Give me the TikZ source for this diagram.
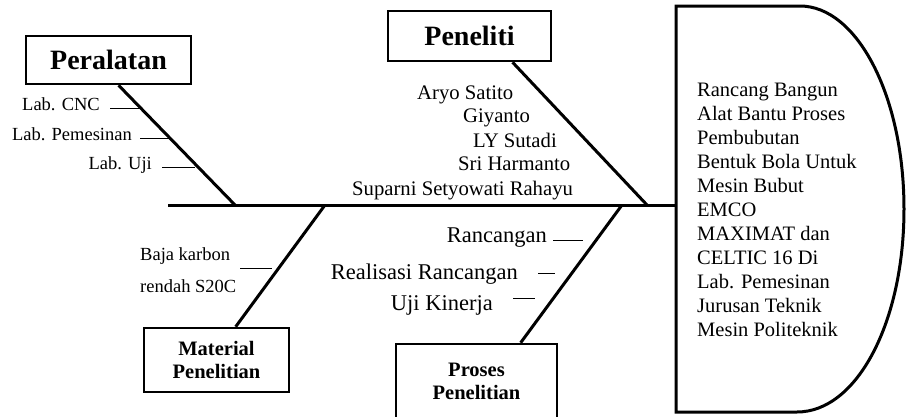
\documentclass[tikz,border=0pt]{standalone}
\usepackage{fontspec}
\setmainfont{Liberation Serif}
\usetikzlibrary{calc}
\begin{document}
\begin{tikzpicture}[x=1pt,y=-1pt,
  box/.style={draw,line width=2.5pt,inner sep=0pt,align=center},
  bigtitle/.style={font=\fontsize{28}{32}\selectfont\bfseries},
  smalltitle/.style={font=\fontsize{20.5}{23}\selectfont\bfseries},
  bone/.style={line width=3pt},
  tickln/.style={line width=1pt},
  lbl/.style={inner sep=0pt},
  lsmall/.style={lbl,font=\fontsize{18.5}{21}\selectfont},
  lmid/.style={lbl,font=\fontsize{20.7}{24}\selectfont},
  lbig/.style={lbl,font=\fontsize{22.5}{26}\selectfont}]
\clip (0,0) rectangle (906,416);
\fill[white] (0,0) rectangle (906,416);
% head
\draw[line width=3pt] (676,6) -- (800,6) .. controls (857,6) and (904,96) .. (904,209)
  .. controls (904,322) and (857,412) .. (797,412) -- (676,412) -- cycle;
\node[anchor=west, align=left, inner sep=0pt, font=\fontsize{20.5}{24}\selectfont] (headtxt) at (697,210)
  {Rancang Bangun\\Alat Bantu Proses\\Pembubutan\\Bentuk Bola Untuk\\Mesin Bubut\\EMCO\\MAXIMAT dan\\CELTIC 16 Di\\Lab. Pemesinan\\Jurusan Teknik\\Mesin Politeknik};
% spine
\coordinate (tailL) at (168,205);
\coordinate (headL) at (676,205);
\draw[bone] (tailL) -- (headL);
\coordinate (j1) at (235,205);
\coordinate (j2) at (647,205);
\coordinate (j3) at (325,205);
\coordinate (j4) at (622,205);
% boxes
\node[box, bigtitle, minimum width=165pt, minimum height=48pt] (peralatan) at (108.5,60) {Peralatan};
\node[box, bigtitle, minimum width=163pt, minimum height=50pt] (peneliti) at (469.5,36) {Peneliti};
\node[box, smalltitle, minimum width=145pt, minimum height=64pt] (material) at (216.5,360) {Material\\Penelitian};
\node[box, minimum width=161pt, minimum height=95pt] (proses) at (476.5,391.5) {};
\node[smalltitle, align=center, inner sep=0pt] (prosestxt) at (476.5,381.5) {Proses\\Penelitian};
% bones
\draw[bone] ($(peralatan.south west)!0.56!(peralatan.south east)$) -- (j1);
\draw[bone] ($(peneliti.south west)!0.76!(peneliti.south east)$) -- (j2);
\draw[bone] ($(material.north west)!0.63!(material.north east)$) -- (j3);
\draw[bone] ($(proses.north west)!0.77!(proses.north east)$) -- (j4);
% Peralatan labels
\node[lsmall, anchor=mid east] (l1) at (100,108) {Lab. CNC};
\node[lsmall, anchor=mid east] (l2) at (132,138) {Lab. Pemesinan};
\node[lsmall, anchor=mid east] (l3) at (152,167) {Lab. Uji};
\draw[tickln] ([xshift=10pt]l1.mid east) -- ++(30,0);
\draw[tickln] ([xshift=8pt]l2.mid east) -- ++(30,0);
\draw[tickln] ([xshift=10pt]l3.mid east) -- ++(33,0);
% Peneliti labels
\node[lmid, anchor=mid west] (n1) at (417,97) {Aryo Satito};
\node[lmid, anchor=mid west] (n2) at (463,120) {Giyanto};
\node[lmid, anchor=mid west] (n3) at (473,145) {LY Sutadi};
\node[lmid, anchor=mid west] (n4) at (458,168) {Sri Harmanto};
\node[lmid, anchor=mid west] (n5) at (352,193) {Suparni Setyowati Rahayu};
% Material labels
\node[lsmall, anchor=mid west] (m1) at (140,258) {Baja karbon};
\node[lsmall, anchor=mid west] (m2) at (140,290) {rendah S20C};
\draw[tickln] (240,268) -- (272,268);
% Proses labels
\node[lbig, anchor=mid east] (p1) at (547,240) {Rancangan};
\node[lbig, anchor=mid east] (p2) at (518,277) {Realisasi Rancangan};
\node[lbig, anchor=mid east] (p3) at (493,308) {Uji Kinerja};
\draw[tickln] ([xshift=6pt]p1.mid east) -- ++(30,0);
\draw[tickln] (538,273) -- (555,273);
\draw[tickln] (513,298) -- (535,298);
\end{tikzpicture}
\end{document}
